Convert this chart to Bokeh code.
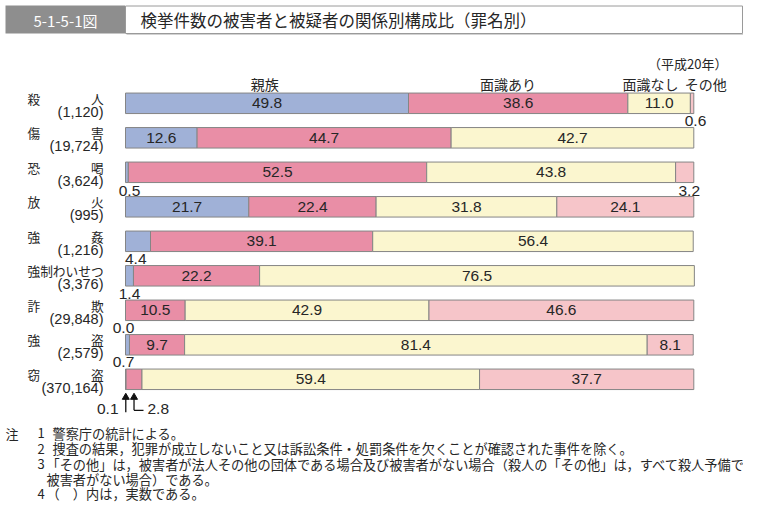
from bokeh.plotting import figure
from bokeh.models import Range1d, ColumnDataSource
from bokeh.core.properties import value
from bokeh.embed import file_html
from bokeh.resources import INLINE

# ---------------- data ----------------
categories = ["殺　　　　人", "傷　　　　害", "恐　　　　喝", "放　　　　火", "強　　　　姦",
              "強制わいせつ", "詐　　　　欺", "強　　　　盗", "窃　　　　盗"]
counts = ["(1,120)", "(19,724)", "(3,624)", "(995)", "(1,216)", "(3,376)",
          "(29,848)", "(2,579)", "(370,164)"]
series = ["親族", "面識あり", "面識なし", "その他"]
shinzoku = [49.8, 12.6, 0.5, 21.7, 4.4, 1.4, 0.0, 0.7, 0.1]
menshiki_ari = [38.6, 44.7, 52.5, 22.4, 39.1, 22.2, 10.5, 9.7, 2.8]
menshiki_nashi = [11.0, 42.7, 43.8, 31.8, 56.4, 76.5, 42.9, 81.4, 59.4]
sonota = [0.6, 0.0, 3.2, 24.1, 0.0, 0.0, 46.6, 8.1, 37.7]
title = "検挙件数の被害者と被疑者の関係別構成比（罪名別）"
fig_no = "5-1-5-1図"
year_note = "（平成20年）"
notes_head = "注"
note_nums = ["1", "2", "3", "", "4"]
note_texts = [
    "警察庁の統計による。",
    "捜査の結果，犯罪が成立しないこと又は訴訟条件・処罰条件を欠くことが確認された事件を除く。",
    "「その他」は，被害者が法人その他の団体である場合及び被害者がない場合（殺人の「その他」は，すべて殺人予備で",
    "被害者がない場合）である。",
    "（　）内は，実数である。",
]

# ---------------- layout ----------------
W, H = 743, 502
X0 = 125.0          # pixel of 0 %
PX = 5.683          # pixels per %
ROW0, ROWSTEP, BAR_H = 102.8, 34.5, 20.5
colors = ["#a0b1d7", "#e98ea6", "#fbf6cf", "#f6c5c9"]
edge = "#858585"
txt = "#262626"
JP = value("Noto Sans CJK JP")
LAT = value("Liberation Sans")


def dx(px):
    return (px - X0) / PX


p = figure(width=W, height=H, x_range=Range1d(dx(0), dx(W)), y_range=Range1d(H, 0),
           output_backend="svg", toolbar_location=None, x_axis_type=None, y_axis_type=None,
           min_border=0, min_border_left=0, min_border_right=0, min_border_top=0,
           min_border_bottom=0)
p.grid.visible = False
p.outline_line_color = None
p.background_fill_color = "white"
p.border_fill_color = "white"

rows = [ROW0 + i * ROWSTEP for i in range(len(categories))]
vals = [shinzoku, menshiki_ari, menshiki_nashi, sonota]

# ---------------- title bar ----------------
p.quad(left=[dx(5)], right=[dx(124.5)], top=[5], bottom=[33], fill_color="#8e8e8e", line_color=None)
p.quad(left=[dx(125)], right=[dx(742)], top=[5.5], bottom=[33], fill_color="white",
       line_color="#9a9a9a", line_width=1)
p.segment(x0=[dx(126)], x1=[dx(743)], y0=[34], y1=[34], line_color="#d2d2d2", line_width=1)
p.text(x=[dx(65)], y=[19.5], text=[fig_no], text_font=JP, text_font_size="15px",
       text_color="white", text_align="center", text_baseline="middle")
p.text(x=[dx(140)], y=[19.5], text=[title], text_font=JP, text_font_size="16.5px",
       text_color=txt, text_align="left", text_baseline="middle")

# ---------------- bars ----------------
seg = dict(y=[], left=[], right=[], color=[])
inside = dict(x=[], y=[], t=[])
for i, y in enumerate(rows):
    cum = 0.0
    for j in range(4):
        v = vals[j][i]
        if v > 0:
            seg["y"].append(y)
            seg["left"].append(cum)
            seg["right"].append(cum + v)
            seg["color"].append(colors[j])
        if v >= 5:
            inside["x"].append(cum + v / 2)
            inside["y"].append(y)
            inside["t"].append(f"{v:.1f}")
        cum += v

p.hbar(y="y", left="left", right="right", height=BAR_H, fill_color="color", line_color=edge,
       line_width=1, source=ColumnDataSource(seg))
p.text(x="x", y="y", text="t", text_font=LAT, text_font_size="15.5px", text_color=txt,
       text_align="center", text_baseline="middle", source=ColumnDataSource(inside))

# small values written outside the bars: (row, series) -> (x %, y offset px, align)
outside = {
    (0, 3): (100.3, 17.5, "center"),
    (2, 0): (0.7, 18.5, "center"),
    (2, 3): (99.2, 18.5, "center"),
    (4, 0): (1.8, 17.5, "center"),
    (5, 0): (0.7, 18.5, "center"),
    (6, 0): (-0.35, 17.5, "center"),
    (7, 0): (-0.35, 17.5, "center"),
    (8, 0): (dx(118), 29.5, "right"),
    (8, 1): (dx(147), 29.5, "left"),
}
for (i, j), (xp, off, al) in outside.items():
    p.text(x=[xp], y=[rows[i] + off], text=[f"{vals[j][i]:.1f}"], text_font=LAT,
           text_font_size="15.5px", text_color=txt, text_align=al, text_baseline="middle")

# arrows for the last row
last = len(rows) - 1
cx0 = shinzoku[last] / 2
cx1 = shinzoku[last] + menshiki_ari[last] / 2
yb = rows[last]
p.segment(x0=[cx0, cx1, cx1], x1=[cx0, cx1, dx(143)],
          y0=[yb + 17, yb + 17, yb + 31], y1=[yb + 33, yb + 31, yb + 31],
          line_color="#111111", line_width=1.3)
p.scatter(x=[cx0, cx1], y=[yb + 18, yb + 18], marker="triangle", size=7,
          fill_color="#111111", line_color="#111111")

# ---------------- category labels ----------------
p.text(x=[dx(27)] * len(rows), y=[r - 5 for r in rows], text=categories, text_font=JP,
       text_font_size="12.7px", text_color=txt, text_align="left", text_baseline="middle")
p.text(x=[dx(103)] * len(rows), y=[r + 8.5 for r in rows], text=counts, text_font=LAT,
       text_font_size="14.5px", text_color=txt, text_align="right", text_baseline="middle")

# ---------------- series labels ----------------
legend_x = [24.5, 67.3, 92.4, 102.1]
p.text(x=legend_x, y=[83.5] * 4, text=series, text_font=JP, text_font_size="14px",
       text_color=txt, text_align="center", text_baseline="middle")
p.text(x=[dx(727)], y=[63], text=[year_note], text_font=JP, text_font_size="13px",
       text_color=txt, text_align="right", text_baseline="middle")

# ---------------- notes ----------------
note_y = [432.5, 448, 463.5, 478.5, 493]
note_x = [dx(52), dx(52), dx(46), dx(46), dx(46)]
p.text(x=[dx(5)], y=[note_y[0]], text=[notes_head], text_font=JP, text_font_size="13px",
       text_color=txt, text_align="left", text_baseline="middle")
p.text(x=[dx(37)] * 5, y=note_y, text=note_nums, text_font=JP, text_font_size="13px",
       text_color=txt, text_align="left", text_baseline="middle")
for xx, yy, tt in zip(note_x, note_y, note_texts):
    p.text(x=[xx], y=[yy], text=[tt], text_font=JP, text_font_size="13.2px",
           text_color=txt, text_align="left", text_baseline="middle")

open("out.html", "w").write(file_html(p, INLINE))
